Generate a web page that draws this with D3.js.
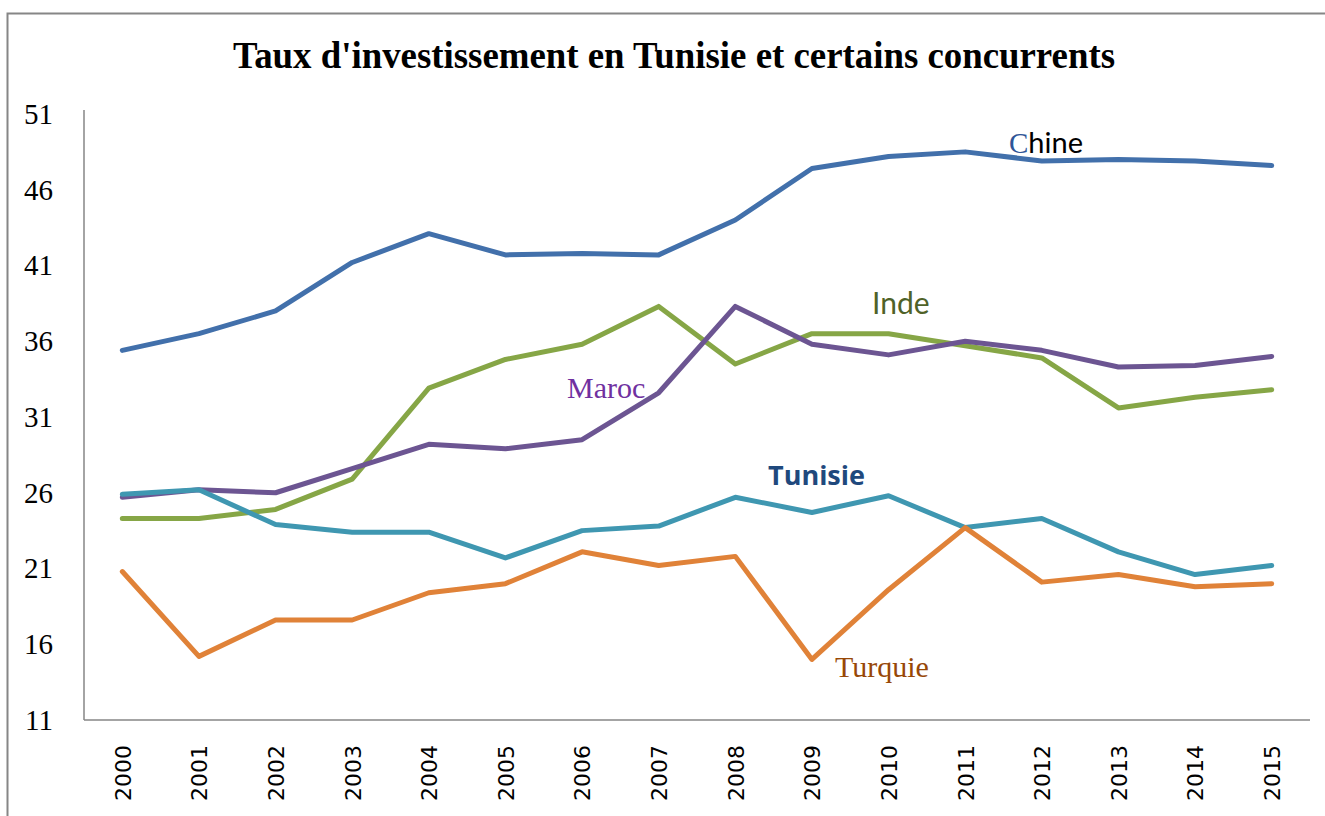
<!DOCTYPE html>
<html>
<head>
<meta charset="utf-8">
<script src="https://cdn.jsdelivr.net/npm/d3@7"></script>
<style>
	body { margin: 0; background: #fff; }
	svg { display: block; }
</style>
</head>
<body>
<div id="chart"></div>
<script>
var years = ["2000", "2001", "2002", "2003", "2004", "2005", "2006", "2007", "2008", "2009", "2010", "2011", "2012", "2013", "2014", "2015"];
var yTicks = [11, 16, 21, 26, 31, 36, 41, 46, 51];

var chine   = [35.4, 36.5, 38.0, 41.2, 43.1, 41.7, 41.8, 41.7, 44.0, 47.4, 48.2, 48.5, 47.9, 48.0, 47.9, 47.6];
var inde    = [24.3, 24.3, 24.9, 26.9, 32.9, 34.8, 35.8, 38.3, 34.5, 36.5, 36.5, 35.7, 34.9, 31.6, 32.3, 32.8];
var maroc   = [25.7, 26.2, 26.0, 27.6, 29.2, 28.9, 29.5, 32.6, 38.3, 35.8, 35.1, 36.0, 35.4, 34.3, 34.4, 35.0];
var tunisie = [25.9, 26.2, 23.9, 23.4, 23.4, 21.7, 23.5, 23.8, 25.7, 24.7, 25.8, 23.7, 24.3, 22.1, 20.6, 21.2];
var turquie = [20.8, 15.2, 17.6, 17.6, 19.4, 20.0, 22.1, 21.2, 21.8, 15.0, 19.6, 23.7, 20.1, 20.6, 19.8, 20.0];

var seriesNames = ["Chine", "Inde", "Maroc", "Tunisie", "Turquie"];
var seriesData = [chine, inde, maroc, tunisie, turquie];
var lineColors = ["#4270AB", "#86A646", "#6C5592", "#3F97B1", "#E08238"];

var width = 1325, height = 816;
var plot = {left: 84, right: 1310, top: 114, bottom: 720};

var svg = d3.select("#chart").append("svg")
	.attr("width", width)
	.attr("height", height);

// outer frame (runs off the right and bottom edges)
svg.append("rect")
	.attr("x", 7.5)
	.attr("y", 13.5)
	.attr("width", 1340)
	.attr("height", 840)
	.style("fill", "none")
	.style("stroke", "#868686")
	.style("stroke-width", 2);

var x = d3.scalePoint()
	.domain(years)
	.range([plot.left, plot.right])
	.padding(0.5);

var y = d3.scaleLinear()
	.domain([11, 51])
	.range([plot.bottom, plot.top]);

svg.append("text")
	.attr("x", 674)
	.attr("y", 68)
	.attr("text-anchor", "middle")
	.attr("textLength", 882)
	.attr("lengthAdjust", "spacingAndGlyphs")
	.style("font-family", "'Liberation Serif', 'Times New Roman', serif")
	.style("font-weight", "bold")
	.style("font-size", "38px")
	.style("fill", "#000")
	.text("Taux d'investissement en Tunisie et certains concurrents");

// axes
var yAxis = d3.axisLeft(y).tickValues(yTicks).tickSize(0).tickPadding(31);
var xAxis = d3.axisBottom(x).tickSize(0);

var gy = svg.append("g")
	.attr("transform", "translate(" + plot.left + ",0)")
	.call(yAxis);
gy.select(".domain").attr("d", "M0," + (plot.top - 4) + "V" + plot.bottom).style("stroke", "#868686").style("stroke-width", 1.5);
gy.selectAll("text")
	.style("font-family", "'Liberation Serif', 'Times New Roman', serif")
	.style("font-size", "29px")
	.style("fill", "#000");

var gx = svg.append("g")
	.attr("transform", "translate(0," + plot.bottom + ")")
	.call(xAxis);
gx.select(".domain").attr("d", "M" + plot.left + ",0H" + plot.right).style("stroke", "#868686").style("stroke-width", 1.5);
gx.selectAll("text")
	.attr("transform", "rotate(-90)")
	.attr("x", -25)
	.attr("y", 0)
	.attr("dy", "0.36em")
	.style("text-anchor", "end")
	.style("font-family", "'DejaVu Sans', Verdana, sans-serif")
	.style("font-size", "22px")
	.style("fill", "#000");

var line = d3.line()
	.x(function(d, i) { return x(years[i]); })
	.y(function(d) { return y(d); });

svg.selectAll(".series")
	.data(seriesData)
	.enter().append("path")
	.attr("class", "series")
	.attr("d", line)
	.style("fill", "none")
	.style("stroke", function(d, i) { return lineColors[i]; })
	.style("stroke-width", 5)
	.style("stroke-linecap", "round")
	.style("stroke-linejoin", "round");

// labels next to the lines
var chineLabel = svg.append("text")
	.attr("x", 1009)
	.attr("y", 153)
	.style("font-size", "29px");
chineLabel.append("tspan")
	.style("font-family", "'Liberation Serif', serif")
	.style("fill", "#2F5597")
	.text("C");
chineLabel.append("tspan")
	.style("font-family", "Lato, sans-serif")
	.style("fill", "#000")
	.text("hine");

svg.append("text")
	.attr("x", 872)
	.attr("y", 314)
	.style("font-family", "Lato, sans-serif")
	.style("font-size", "30px")
	.style("fill", "#4F6228")
	.text("Inde");

svg.append("text")
	.attr("x", 567)
	.attr("y", 398)
	.style("font-family", "'Liberation Serif', serif")
	.style("font-size", "30px")
	.style("fill", "#7030A0")
	.text("Maroc");

svg.append("text")
	.attr("x", 768)
	.attr("y", 485)
	.style("font-family", "'Open Sans', sans-serif")
	.style("font-weight", "bold")
	.style("font-size", "27px")
	.style("fill", "#1F497D")
	.text("Tunisie");

svg.append("text")
	.attr("x", 835)
	.attr("y", 677)
	.style("font-family", "'Liberation Serif', serif")
	.style("font-size", "30px")
	.style("fill", "#984807")
	.text("Turquie");
</script>
</body>
</html>
